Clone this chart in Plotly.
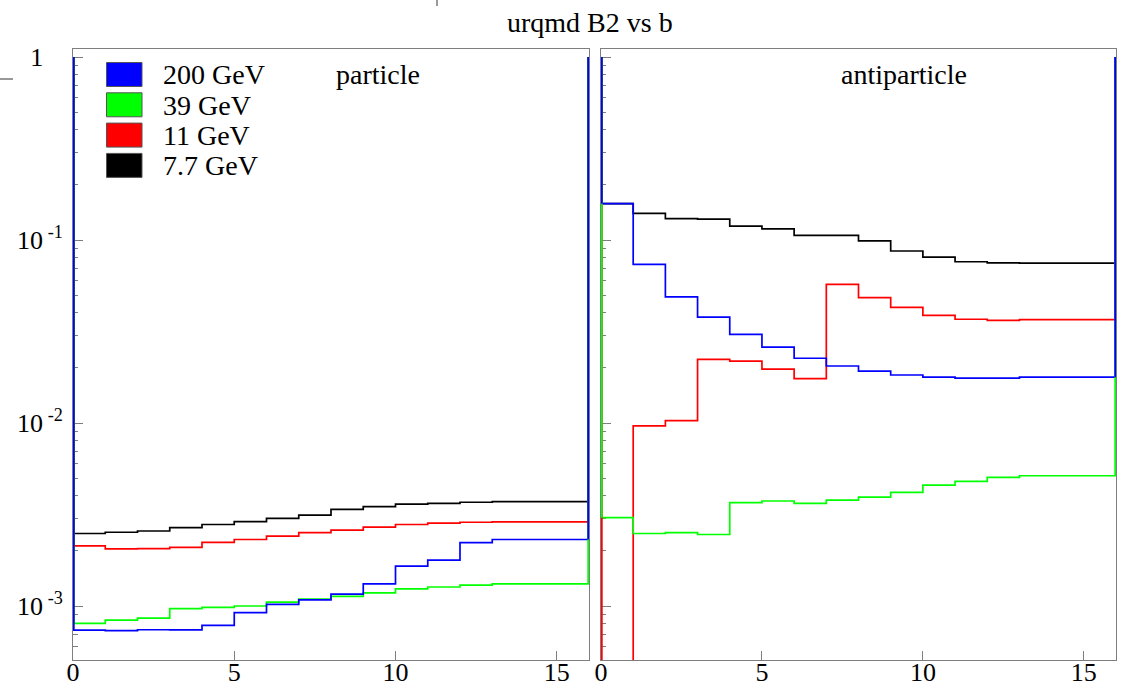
import plotly.graph_objects as go

# ---------------- data ----------------
b_edges = list(range(0, 17))          # impact parameter bin edges, b = 0..16
energies = ["200 GeV", "39 GeV", "11 GeV", "7.7 GeV"]
colors = ["#0000ff", "#00ff00", "#ff0000", "#000000"]
panel_labels = ["particle", "antiparticle"]
title_text = "urqmd B2 vs b"

# particle B2 per b bin
p_200 = [7.39e-4, 7.33e-4, 7.42e-4, 7.40e-4, 7.84e-4, 9.20e-4, 1.02e-3, 1.08e-3,
         1.16e-3, 1.32e-3, 1.65e-3, 1.78e-3, 2.22e-3, 2.31e-3, 2.31e-3, 2.31e-3]
p_39 = [8.04e-4, 8.38e-4, 8.59e-4, 9.67e-4, 9.84e-4, 1.00e-3, 1.05e-3, 1.09e-3,
        1.13e-3, 1.18e-3, 1.24e-3, 1.27e-3, 1.30e-3, 1.32e-3, 1.32e-3, 1.32e-3]
p_11 = [2.13e-3, 2.05e-3, 2.06e-3, 2.09e-3, 2.23e-3, 2.31e-3, 2.41e-3, 2.52e-3,
        2.60e-3, 2.70e-3, 2.79e-3, 2.84e-3, 2.87e-3, 2.88e-3, 2.88e-3, 2.88e-3]
p_77 = [2.49e-3, 2.53e-3, 2.57e-3, 2.68e-3, 2.79e-3, 2.89e-3, 3.01e-3, 3.14e-3,
        3.37e-3, 3.49e-3, 3.60e-3, 3.64e-3, 3.69e-3, 3.72e-3, 3.72e-3, 3.72e-3]

# antiparticle B2 per b bin
a_200 = [0.158, 0.0736, 0.0489, 0.0379, 0.0305, 0.0260, 0.0226, 0.0205,
         0.0192, 0.0183, 0.0178, 0.0176, 0.0176, 0.0178, 0.0178, 0.0178]
a_39 = [3.04e-3, 2.49e-3, 2.52e-3, 2.46e-3, 3.67e-3, 3.75e-3, 3.64e-3, 3.79e-3,
        3.94e-3, 4.18e-3, 4.58e-3, 4.80e-3, 5.05e-3, 5.15e-3, 5.15e-3, 5.15e-3]
a_11 = [1e-5, 9.66e-3, 0.0103, 0.0223, 0.0218, 0.0197, 0.0175, 0.0572,
        0.0484, 0.0429, 0.0388, 0.0369, 0.0364, 0.0367, 0.0367, 0.0367]
a_77 = [0.158, 0.140, 0.131, 0.130, 0.119, 0.115, 0.106, 0.106,
        0.0989, 0.0871, 0.0807, 0.0761, 0.0751, 0.0748, 0.0748, 0.0748]

y_max = 1.0   # histogram frame maximum (edges of the outline run up to it)

W, H = 1123, 688
FONT = "Liberation Serif"
FRAME = "#7f7f7f"


def px_x(p):
    return p / W


def px_y(p):
    return 1 - p / H


fig = go.Figure()

panels = [
    ([p_200, p_39, p_11, p_77], "x", "y"),
    ([a_200, a_39, a_11, a_77], "x2", "y2"),
]
draw_order = [3, 2, 1, 0]  # black, red, green, blue (blue on top)
for series, xa, ya in panels:
    for i in draw_order:
        vals = series[i]
        xs = b_edges
        ys = vals + [vals[-1]]
        fig.add_trace(go.Scatter(
            x=xs, y=ys, mode="lines", line=dict(color=colors[i], width=1.7, shape="hv"),
            xaxis=xa, yaxis=ya, showlegend=False, hoverinfo="skip"))
    # outline edges at the frame borders (drawn wider, as half is clipped by the frame)
    for i in draw_order:
        vals = series[i]
        for xe, ve in ((b_edges[0], vals[0]), (b_edges[-1], vals[-1])):
            fig.add_trace(go.Scatter(
                x=[xe, xe], y=[y_max, ve], mode="lines",
                line=dict(color=colors[i], width=3.4),
                xaxis=xa, yaxis=ya, showlegend=False, hoverinfo="skip"))

major_y = [1e-3, 1e-2, 1e-1, 1]
major_txt = ["10<sup> -3</sup>", "10<sup> -2</sup>", "10<sup> -1</sup>", "1&nbsp;&nbsp;&nbsp;"]
minor_y = [m * 10 ** e for e in (-4, -3, -2, -1) for m in range(2, 10)]

yrange = [-3.295, 0.044]
common_y = dict(
    type="log", range=yrange, tickmode="array", tickvals=major_y, ticktext=major_txt,
    ticks="inside", ticklen=10, tickwidth=1, tickcolor=FRAME,
    minor=dict(tickmode="array", tickvals=minor_y, ticks="inside", ticklen=5,
               tickcolor=FRAME, tickwidth=1, showgrid=False),
    showline=True, linecolor=FRAME, linewidth=1, mirror=True, layer="below traces",
    showgrid=False, zeroline=False, automargin=False,
    tickfont=dict(family=FONT, size=26, color="black"), ticklabelstandoff=4,
)
common_x = dict(
    range=[0, 16], tickmode="array", tickvals=[0, 5, 10, 15],
    ticks="inside", ticklen=9, tickwidth=1, tickcolor=FRAME,
    showline=True, linecolor=FRAME, linewidth=1, mirror=True, layer="below traces",
    showgrid=False, zeroline=False, automargin=False,
    tickfont=dict(family=FONT, size=26, color="black"), ticklabelstandoff=-11,
)

ydom = [px_y(660), px_y(49)]
fig.update_layout(
    width=W, height=H, margin=dict(l=0, r=0, t=0, b=0),
    paper_bgcolor="white", plot_bgcolor="white", showlegend=False,
    xaxis=dict(domain=[px_x(73), px_x(589)], anchor="y", **common_x),
    xaxis2=dict(domain=[px_x(601), px_x(1116)], anchor="y2", **common_x),
    yaxis=dict(domain=ydom, anchor="x", **common_y),
    yaxis2=dict(domain=ydom, anchor="x2", showticklabels=False,
                **{k: v for k, v in common_y.items()}),
)

annotations = []
shapes = []

# title
annotations.append(dict(text=title_text, x=px_x(590), y=px_y(22), xref="paper", yref="paper",
                        showarrow=False, xanchor="center", yanchor="middle",
                        font=dict(family=FONT, size=28, color="black")))
# panel labels
annotations.append(dict(text=panel_labels[0], x=px_x(378), y=px_y(75), xref="paper", yref="paper",
                        showarrow=False, xanchor="center", yanchor="middle",
                        font=dict(family=FONT, size=28, color="black")))
annotations.append(dict(text=panel_labels[1], x=px_x(904), y=px_y(75), xref="paper", yref="paper",
                        showarrow=False, xanchor="center", yanchor="middle",
                        font=dict(family=FONT, size=28, color="black")))

# legend (boxes + text)
for k, (lab, col) in enumerate(zip(energies, colors)):
    cy = 74.5 + 30.3 * k
    shapes.append(dict(type="rect", xref="paper", yref="paper",
                       x0=px_x(106.5), x1=px_x(142), y0=px_y(cy - 12), y1=px_y(cy + 12),
                       fillcolor=col, line=dict(color="#555555", width=1)))
    annotations.append(dict(text=lab, x=px_x(161), y=px_y(cy + 0.5), xref="paper", yref="paper",
                            showarrow=False, xanchor="left", yanchor="middle",
                            font=dict(family=FONT, size=28, color="black")))

# small canvas marks seen in the original
shapes.append(dict(type="line", xref="paper", yref="paper", x0=0, x1=px_x(13),
                   y0=px_y(79), y1=px_y(79), line=dict(color="#333333", width=1)))
shapes.append(dict(type="line", xref="paper", yref="paper", x0=px_x(437), x1=px_x(437),
                   y0=px_y(0), y1=px_y(6), line=dict(color="#333333", width=1)))

fig.update_layout(annotations=annotations, shapes=shapes)

fig.write_html("out.html")
